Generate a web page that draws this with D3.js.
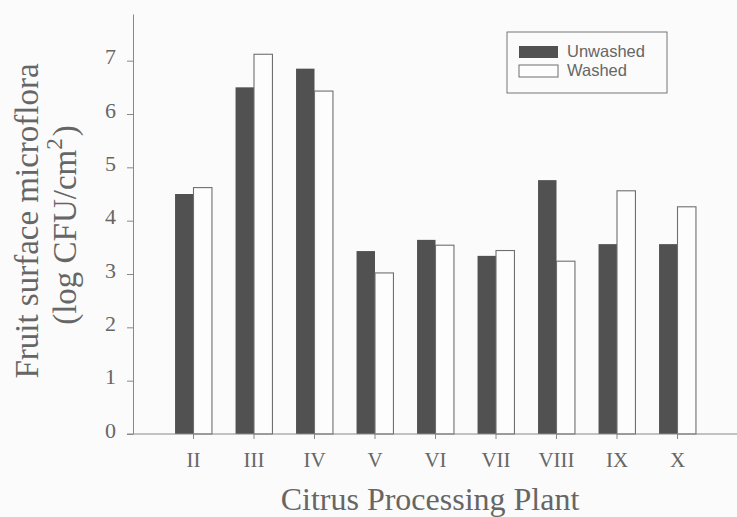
<!DOCTYPE html>
<html>
<head>
<meta charset="utf-8">
<script src="https://cdn.jsdelivr.net/npm/d3@7"></script>
<style>
  html, body { margin: 0; padding: 0; background: #fbfbfb; }
  svg { display: block; }
</style>
</head>
<body>
<svg id="chart" width="737" height="517"></svg>
<script>
// --- Data ------------------------------------------------------------
const plants = ['II', 'III', 'IV', 'V', 'VI', 'VII', 'VIII', 'IX', 'X'];
const seriesNames = ['Unwashed', 'Washed'];
const unwashed = [4.5, 6.5, 6.85, 3.43, 3.64, 3.34, 4.76, 3.56, 3.56];
const washed = [4.62, 7.12, 6.43, 3.02, 3.54, 3.44, 3.24, 4.56, 4.26];
const yTicks = [0, 1, 2, 3, 4, 5, 6, 7];

// --- Layout ----------------------------------------------------------
const plot = { left: 133, right: 738, top: 14, bottom: 434 };
const ink = '#666666';
const serif = '"Liberation Serif", "Times New Roman", serif';
const sans = '"Liberation Sans", Arial, sans-serif';

const svg = d3.select('#chart');

// one empty slot sits at the y axis, so the bands start half a step in
const step = (plot.right - plot.left) / (plants.length + 1);
const x = d3.scaleBand()
  .domain(plants)
  .range([plot.left + step / 2, plot.right - step / 2])
  .paddingInner(0.39)
  .paddingOuter(0.195);

const xSeries = d3.scaleBand()
  .domain(seriesNames)
  .range([0, x.bandwidth()]);

const y = d3.scaleLinear()
  .domain([0, 7.875])
  .range([plot.bottom, plot.top]);

const colors = { Unwashed: '#515151', Washed: '#fdfdfd' };

const rows = plants.map((p, i) => ({ plant: p, Unwashed: unwashed[i], Washed: washed[i] }));

// --- Bars --------------------------------------------------------------
const groups = svg.append('g')
  .selectAll('g')
  .data(rows)
  .join('g')
  .attr('transform', d => `translate(${x(d.plant)},0)`);

groups.selectAll('rect')
  .data(d => seriesNames.map(s => ({ key: s, value: d[s] })))
  .join('rect')
  .attr('x', d => xSeries(d.key))
  .attr('y', d => y(d.value))
  .attr('width', xSeries.bandwidth())
  .attr('height', d => y(0) - y(d.value))
  .attr('fill', d => colors[d.key])
  .attr('stroke', d => d.key === 'Washed' ? '#6f6f6f' : 'none')
  .attr('stroke-width', 1.1);

// --- Axes --------------------------------------------------------------
const yAxis = svg.append('g')
  .attr('transform', `translate(${plot.left},0)`)
  .call(d3.axisLeft(y).tickValues(yTicks).tickSize(6).tickPadding(11).tickSizeOuter(0));

yAxis.select('.domain').attr('stroke', '#888');
yAxis.selectAll('.tick line').attr('stroke', '#888');
yAxis.selectAll('.tick text')
  .attr('dy', '0.15em')
  .attr('fill', ink)
  .style('font-family', serif)
  .style('font-size', '22px');

const xAxis = svg.append('g')
  .attr('transform', `translate(0,${plot.bottom})`)
  .call(d3.axisBottom(x).tickSize(5).tickPadding(13).tickSizeOuter(0));

xAxis.select('.domain').remove();
xAxis.selectAll('.tick line').attr('stroke', '#888');
xAxis.selectAll('.tick text')
  .attr('fill', ink)
  .style('font-family', serif)
  .style('font-size', '21px');

// baseline runs a little left of the y axis and off the right edge
svg.append('line')
  .attr('x1', plot.left - 6).attr('x2', plot.right)
  .attr('y1', y(0)).attr('y2', y(0))
  .attr('stroke', '#888');

// --- Titles ------------------------------------------------------------
svg.append('text')
  .attr('x', 430)
  .attr('y', 510)
  .attr('text-anchor', 'middle')
  .attr('fill', ink)
  .style('font-family', serif)
  .style('font-size', '32px')
  .text('Citrus Processing Plant');

const yTitle = svg.append('text')
  .attr('transform', 'translate(0,221) rotate(-90)')
  .attr('text-anchor', 'middle')
  .attr('fill', ink)
  .style('font-family', serif)
  .style('font-size', '33px');

yTitle.append('tspan').attr('x', 0).attr('y', 38).text('Fruit surface microflora');
const line2 = yTitle.append('tspan').attr('x', -4).attr('y', 76);
line2.append('tspan').text('(log CFU/cm');
line2.append('tspan').attr('dy', -14).style('font-size', '23px').text('2');
line2.append('tspan').attr('dy', 14).attr('dx', 2).text(')');

// --- Legend ------------------------------------------------------------
const legend = svg.append('g').attr('transform', 'translate(507,32)');

legend.append('rect')
  .attr('width', 160).attr('height', 61)
  .attr('fill', 'none')
  .attr('stroke', '#777')
  .attr('stroke-width', 1);

const item = legend.selectAll('g.item')
  .data(seriesNames)
  .join('g')
  .attr('class', 'item')
  .attr('transform', (d, i) => `translate(12,${14 + i * 19})`);

item.append('rect')
  .attr('width', 39).attr('height', 12)
  .attr('fill', d => colors[d])
  .attr('stroke', d => d === 'Washed' ? '#6f6f6f' : 'none');

item.append('text')
  .attr('x', 48).attr('y', 11)
  .attr('fill', ink)
  .style('font-family', sans)
  .style('font-size', '16.5px')
  .text(d => d);
</script>
</body>
</html>
